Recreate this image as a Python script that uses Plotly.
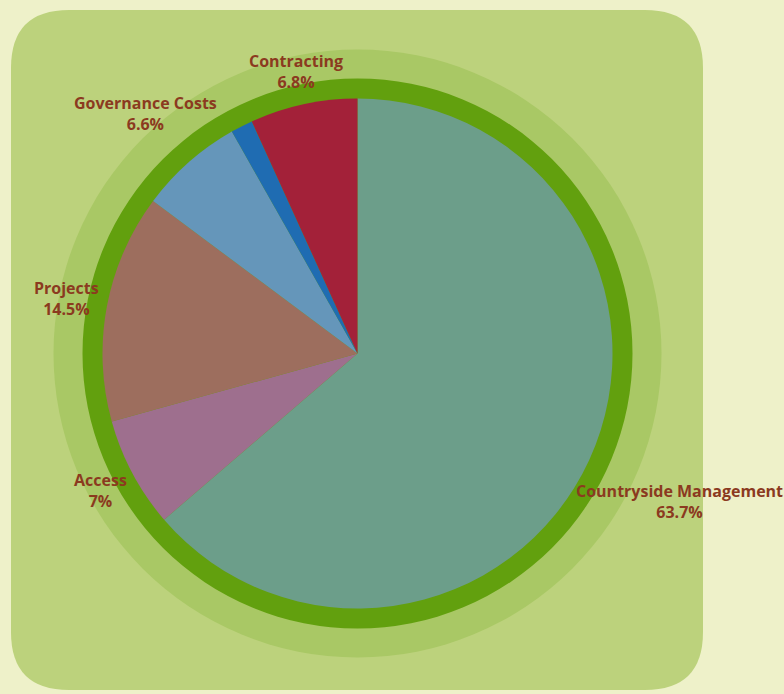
import math
import plotly.graph_objects as go

W, H = 784, 694

labels = ["Countryside Management", "Access", "Projects", "Governance Costs", "Other", "Contracting"]
values = [63.7, 7, 14.5, 6.6, 1.4, 6.8]
colors = ["#6c9e8a", "#9e6f8e", "#9d6e5e", "#6596ba", "#1f6cb2", "#a32139"]
show_text = [True, True, True, True, False, True]

# geometry in pixels (top-left origin)
CX, CY, R = 357.5, 353.5, 255
RING_DARK = 275
RING_LIGHT = 304
FONT_SIZE = 16
CHAR_W = 8.8      # approx. label glyph width used for placement
HALF_H = 21       # half height of two-line label
TEXT_COLOR = "#8b3a1f"


def px(x):
    return x / W


def py(y):
    return 1 - y / H


def rounded_rect(x0, y0, x1, y1, r):
    pts = [
        f"M {px(x0 + r)} {py(y0)}",
        f"L {px(x1 - r)} {py(y0)}",
        f"Q {px(x1)} {py(y0)} {px(x1)} {py(y0 + r)}",
        f"L {px(x1)} {py(y1 - r)}",
        f"Q {px(x1)} {py(y1)} {px(x1 - r)} {py(y1)}",
        f"L {px(x0 + r)} {py(y1)}",
        f"Q {px(x0)} {py(y1)} {px(x0)} {py(y1 - r)}",
        f"L {px(x0)} {py(y0 + r)}",
        f"Q {px(x0)} {py(y0)} {px(x0 + r)} {py(y0)}",
        "Z",
    ]
    return " ".join(pts)


def circle(r, color):
    return dict(type="circle", xref="paper", yref="paper",
                x0=px(CX - r), x1=px(CX + r), y0=py(CY + r), y1=py(CY - r),
                fillcolor=color, line=dict(width=0), layer="below")


# labels placed just outside the pie along each slice's mid-angle
total = sum(values)
annotations = []
cum = 0.0
for lab, v, show in zip(labels, values, show_text):
    theta = 2 * math.pi * (cum + v / 2) / total
    cum += v
    if not show:
        continue
    s, c = math.sin(theta), math.cos(theta)
    hw = 0.5 * len(lab) * CHAR_W
    ext = R + 3 + hw * abs(s) + HALF_H * abs(c)
    x = CX + ext * s
    y = CY - ext * c
    annotations.append(dict(
        x=px(x), y=py(y), xref="paper", yref="paper",
        text=f"{lab}<br>{v:g}%", showarrow=False,
        xanchor="center", yanchor="middle", align="center",
        font=dict(family="Open Sans", size=FONT_SIZE, color=TEXT_COLOR, weight="bold"),
    ))

fig = go.Figure(go.Pie(
    labels=labels,
    values=values,
    sort=False,
    direction="clockwise",
    rotation=0,
    marker=dict(colors=colors, line=dict(width=0)),
    textinfo="none",
    showlegend=False,
    hoverinfo="label+percent",
    domain=dict(x=[px(CX - R), px(CX + R)], y=[py(CY + R), py(CY - R)]),
))

fig.update_layout(
    width=W, height=H,
    margin=dict(l=0, r=0, t=0, b=0),
    paper_bgcolor="#eef1c9",
    plot_bgcolor="#eef1c9",
    shapes=[
        dict(type="path", xref="paper", yref="paper",
             path=rounded_rect(11, 10, 703, 690, 58),
             fillcolor="#bcd27c", line=dict(width=0), layer="below"),
        circle(RING_LIGHT, "#a9c865"),
        circle(RING_DARK, "#62a00e"),
    ],
    annotations=annotations,
)

fig.write_html("out.html")
